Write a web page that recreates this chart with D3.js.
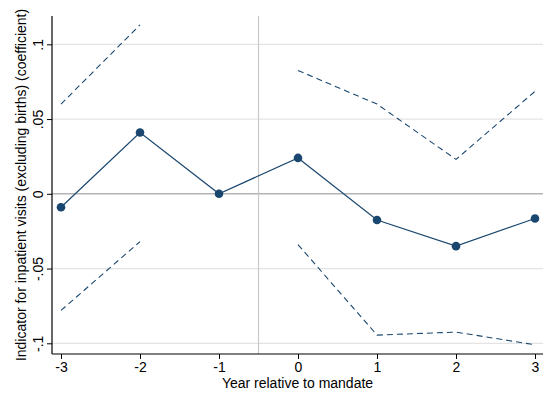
<!DOCTYPE html>
<html>
<head>
<meta charset="utf-8">
<script src="https://cdn.jsdelivr.net/npm/d3@7"></script>
<style>
  body { margin: 0; background: #fff; }
  text { font-family: "Liberation Sans", Arial, sans-serif; fill: #000; }
</style>
</head>
<body>
<svg width="544" height="394"></svg>
<script>
// event-study coefficients
var years = [-3, -2, -1, 0, 1, 2, 3];
var coef  = [-0.009, 0.041, 0, 0.024, -0.0175, -0.035, -0.0165];
var upper = [0.060, 0.113, null, 0.0825, 0.060, 0.023, 0.0685];
var lower = [-0.078, -0.032, null, -0.034, -0.0945, -0.0925, -0.101];
var yTicks = [-0.1, -0.05, 0, 0.05, 0.1];
var yTickLabels = ["-.1", "-.05", "0", ".05", ".1"];

var navy = "#1a476f";
var svg = d3.select("svg");

var plotL = 52, plotR = 543, plotT = 16, plotB = 354;
var fs = "14px";

var x = d3.scaleLinear().domain([-3, 3]).range([61, 535]);
var y = d3.scaleLinear().domain([-0.1, 0.1]).range([343.3, 44.3]);

// grid lines
svg.append("g").selectAll("line")
    .data(yTicks)
    .enter().append("line")
    .attr("x1", plotL).attr("x2", plotR)
    .attr("y1", function(d) { return y(d); })
    .attr("y2", function(d) { return y(d); })
    .attr("stroke", function(d) { return d === 0 ? "#b4b4b4" : "#e4e4e4"; })
    .attr("stroke-width", function(d) { return d === 0 ? 1.4 : 1.2; });

// mandate line
svg.append("line")
    .attr("x1", x(-0.5)).attr("x2", x(-0.5))
    .attr("y1", plotT).attr("y2", plotB)
    .attr("stroke", "#c8c8c8")
    .attr("stroke-width", 1.2);

// axes
var xAxis = d3.axisBottom(x).tickValues(years).tickSize(5).tickFormat(d3.format("d"));
var gx = svg.append("g").attr("transform", "translate(0," + plotB + ")").call(xAxis);
gx.select(".domain").attr("d", "M" + plotL + ",0H" + plotR).attr("stroke", "#000").attr("stroke-width", 1.2);
gx.selectAll(".tick line").attr("stroke", "#000");
gx.selectAll(".tick text")
    .attr("y", 8)
    .style("font-size", fs)
    .style("font-family", "Liberation Sans, Arial, sans-serif")
    .text(function(d) { return d < 0 ? "-" + Math.abs(d) : d; });

var yAxis = d3.axisLeft(y).tickValues(yTicks).tickSize(5)
    .tickFormat(function(d, i) { return yTickLabels[i]; });
var gy = svg.append("g").attr("transform", "translate(" + plotL + ",0)").call(yAxis);
gy.select(".domain").attr("d", "M0," + plotT + "V" + plotB).attr("stroke", "#000").attr("stroke-width", 1.2);
gy.selectAll(".tick line").attr("stroke", "#000");
gy.selectAll(".tick text")
    .attr("x", null).attr("dy", null)
    .attr("transform", "translate(-9,0) rotate(-90)")
    .attr("text-anchor", "middle")
    .style("font-size", fs)
    .style("font-family", "Liberation Sans, Arial, sans-serif");

// confidence bands
var ci = d3.line()
    .defined(function(d) { return d[1] !== null; })
    .x(function(d) { return x(d[0]); })
    .y(function(d) { return y(d[1]); });

[upper, lower].forEach(function(band) {
  svg.append("path")
      .datum(years.map(function(yr, i) { return [yr, band[i]]; }))
      .attr("d", ci)
      .attr("fill", "none")
      .attr("stroke", navy)
      .attr("stroke-width", 1.1)
      .attr("stroke-dasharray", "6,4");
});

// point estimates
var pts = years.map(function(yr, i) { return [yr, coef[i]]; });
svg.append("path")
    .datum(pts)
    .attr("d", ci)
    .attr("fill", "none")
    .attr("stroke", navy)
    .attr("stroke-width", 1.2);

svg.append("g").selectAll("circle")
    .data(pts)
    .enter().append("circle")
    .attr("cx", function(d) { return x(d[0]); })
    .attr("cy", function(d) { return y(d[1]); })
    .attr("r", 4.3)
    .attr("fill", navy);

// titles
svg.append("text")
    .attr("x", (plotL + plotR) / 2).attr("y", 388)
    .attr("text-anchor", "middle")
    .style("font-size", fs)
    .text("Year relative to mandate");

svg.append("text")
    .attr("transform", "translate(26," + (plotT + plotB) / 2 + ") rotate(-90)")
    .attr("text-anchor", "middle")
    .style("font-size", fs)
    .text("Indicator for inpatient visits (excluding births) (coefficient)");
</script>
</body>
</html>
